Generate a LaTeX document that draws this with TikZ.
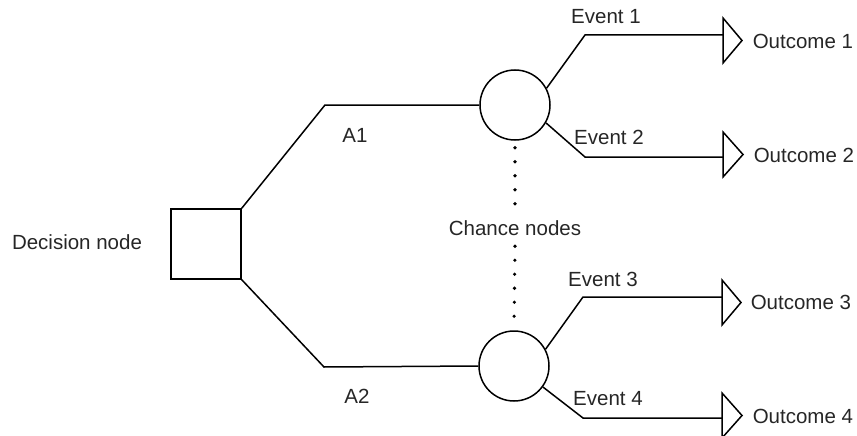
\documentclass[tikz,border=0pt]{standalone}
\usepackage{fontspec}
\setmainfont{Liberation Sans}
\begin{document}
\begin{tikzpicture}[x=1pt,y=-1pt,
  line width=1.5pt,
  every node/.style={font=\fontsize{20.5}{24}\selectfont, text=black!85},
  lbl/.style={inner sep=0pt},
  chance/.style={circle, draw, minimum size=70pt, inner sep=0pt},
  decision/.style={draw, minimum size=70pt, inner sep=0pt},
  dots/.style={line width=3.6pt, line cap=round, dash pattern=on 0pt off 14pt},
  outtri/.style={line width=1.5pt, line join=miter}]
\useasboundingbox (0,0) rectangle (857,436);

% nodes
\node[decision] (d) at (206,244) {};
\node[chance] (c1) at (515,105) {};
\node[chance] (c2) at (514,366) {};
\node[lbl] (dl) at (77,242) {Decision node};
\node[inner sep=10pt] (ch) at (515,228) {Chance nodes};

% bend points
\coordinate (b1) at (325,105);
\coordinate (b2) at (324,367);
\coordinate (e1) at (585,35);
\coordinate (e2) at (585,157);
\coordinate (e3) at (583,297);
\coordinate (e4) at (583,418);
\coordinate (t1) at (723,35);
\coordinate (t2) at (723,157);
\coordinate (t3) at (722,297);
\coordinate (t4) at (722,418);

% decision branches
\draw (d.north east) -- (b1) -- (c1.west);
\draw (d.south east) -- (b2) -- (c2.west);
\node[lbl] (a1) at (355,135) {A1};
\node[lbl] (a2) at (357,396) {A2};

% dotted chance links
\draw[dots] (c1.south) ++(0,7) -- (ch.north);
\draw[dots] (ch.south) -- (c2.north);

% event branches
\draw (c1.28) -- (e1) -- (t1);
\draw (c1.-30) -- (e2) -- (t2);
\draw (c2.28) -- (e3) -- (t3);
\draw (c2.-36) -- (e4) -- (t4);

% outcome triangles
\draw[outtri] (723,18) -- (742,40.5) -- (723,63) -- cycle;
\draw[outtri] (723,132) -- (743,154.5) -- (723,177) -- cycle;
\draw[outtri] (722,280) -- (741,302.5) -- (722,325) -- cycle;
\draw[outtri] (722,393) -- (742,415.5) -- (722,438) -- cycle;

% labels
\node[lbl] (ev1) at (606,17) {Event 1};
\node[lbl] (ev2) at (609,137) {Event 2};
\node[lbl] (ev3) at (603,279) {Event 3};
\node[lbl] (ev4) at (608,399) {Event 4};
\node[lbl, anchor=west] (o1) at (752,41) {Outcome 1};
\node[lbl, anchor=west] (o2) at (753,155) {Outcome 2};
\node[lbl, anchor=west] (o3) at (750,302) {Outcome 3};
\node[lbl, anchor=west] (o4) at (752,416) {Outcome 4};
\end{tikzpicture}
\end{document}
